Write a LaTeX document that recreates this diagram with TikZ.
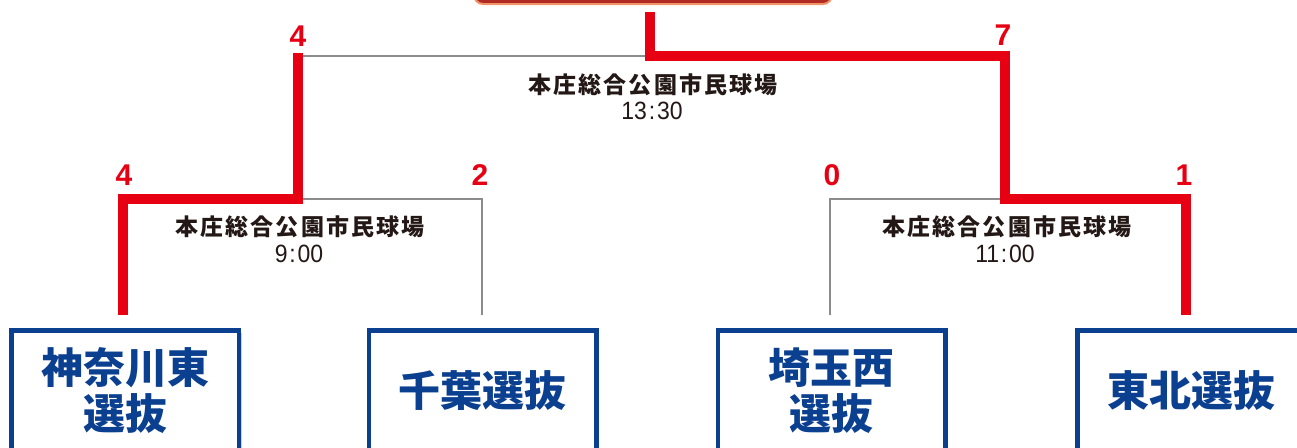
\documentclass[tikz,border=0pt]{standalone}
\usepackage{fontspec}
\newfontfamily\jp{Noto Sans CJK JP}
\newfontfamily\jpsp{Noto Sans CJK JP}[LetterSpace=9]
\newfontfamily\num{Liberation Sans}
\usetikzlibrary{shadows}
\definecolor{winred}{HTML}{E60012}
\definecolor{losegray}{HTML}{8C8C8C}
\definecolor{teamblue}{HTML}{0B3F8F}
\definecolor{ink}{HTML}{231815}
\definecolor{finfill}{HTML}{B22A24}
\definecolor{finedge}{HTML}{F0956A}
\tikzset{
  team/.style={draw=teamblue, line width=4.5pt, fill=white,
    minimum width=227.5pt, minimum height=121.5pt, inner sep=0pt,
    text=teamblue, align=center,
    font=\jp\bfseries\fontsize{42}{46}\selectfont,
    drop shadow={shadow xshift=3pt, shadow yshift=-3pt, opacity=.18, fill=black}},
  score/.style={text=winred, inner sep=0pt, font=\num\bfseries\fontsize{30}{30}\selectfont},
  venue/.style={text=ink, inner sep=0pt, align=center,
    font=\jpsp\bfseries\fontsize{23}{26}\selectfont},
  timetext/.style={text=ink, inner sep=0pt, xscale=0.92,
    font=\num\fontsize{25}{25}\selectfont},
  winline/.style={draw=winred, line width=10.5pt, line join=miter},
  loseline/.style={draw=losegray, line width=2.8pt, line join=miter},
  finalbox/.style={draw=finedge, fill=finfill, line width=2pt, rounded corners=9pt,
    minimum width=358pt, minimum height=44pt, inner sep=0pt}
}
\begin{document}
\begin{tikzpicture}[x=1pt,y=-1pt]
\useasboundingbox (0,0) rectangle (1297,447);
\clip (0,0) rectangle (1297,447);

% final box (cut off at top)
\node[finalbox] (final) at (653,-18) {};

% team boxes
\node[team] (b1) at (125,391) {神奈川東\\選抜};
\node[team] (b2) at (482.5,391) {千葉選抜};
\node[team] (b3) at (831.5,391) {埼玉西\\選抜};
\node[team] (b4) at (1191,391) {東北選抜};

% bracket coordinates
\coordinate (f)  at (650,12);
\coordinate (fj) at (650,56);
\coordinate (sL) at (298,56);
\coordinate (sLr) at (298,53);
\coordinate (sR) at (1005,56);
\coordinate (jL) at (298,199);
\coordinate (jR) at (1005,199);
\coordinate (c1) at (123,199);
\coordinate (c2) at (482,199);
\coordinate (c3) at (830,199);
\coordinate (c4) at (1186,199);
\coordinate (t1) at (123,315);
\coordinate (t2) at (482,315);
\coordinate (t3) at (830,315);
\coordinate (t4) at (1186,315);

% losing lines
\draw[loseline] (sL) -- (fj);
\draw[loseline] (jL) -- (c2) -- (t2);
\draw[loseline] (t3) -- (c3) -- (jR);

% winning lines
\draw[winline] (f) -- (fj) -- (sR) -- (jR) -- (c4) -- (t4);
\draw[winline] (t1) -- (c1) -- (jL) -- (sLr);

% scores
\node[score] (s1) at (298,36) {4};
\node[score] (s2) at (1003,35) {7};
\node[score] (s3) at (124,175) {4};
\node[score] (s4) at (480,175) {2};
\node[score] (s5) at (832,175) {0};
\node[score] (s6) at (1184,175) {1};

% venues and times
\node[venue] (v1) at (653,85) {本庄総合公園市民球場};
\node[timetext] (tm1) at (652,111) {13\kern2pt:\kern2pt30};
\node[venue] (v2) at (300,227) {本庄総合公園市民球場};
\node[timetext] (tm2) at (299,254) {9\kern2pt:\kern2pt00};
\node[venue] (v3) at (1007,227) {本庄総合公園市民球場};
\node[timetext] (tm3) at (1005,254) {11\kern2pt:\kern2pt00};
\end{tikzpicture}
\end{document}
